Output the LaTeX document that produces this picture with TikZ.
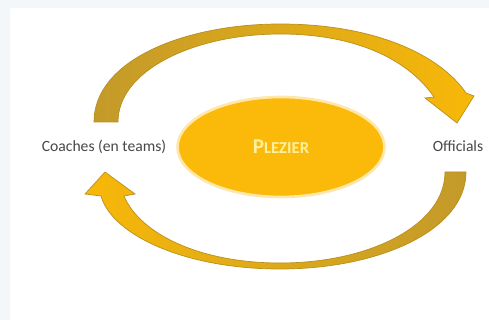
\documentclass[tikz,border=0pt]{standalone}
\usepackage{fontspec}
\setmainfont{Carlito}
\usetikzlibrary{shapes.geometric,positioning}
\definecolor{frame}{HTML}{F3F7FA}
\definecolor{gold}{HTML}{FBBA0A}
\definecolor{darkgold}{HTML}{C39A2A}
\definecolor{lightgold}{HTML}{F8B808}
\definecolor{rimgold}{HTML}{B8901E}
\definecolor{labelgray}{HTML}{484848}
\definecolor{paleyellow}{HTML}{FFF0A0}

\begin{document}
\begin{tikzpicture}[x=0.02cm,y=-0.02cm]
\tikzstyle{label}=[inner sep=0pt,text=labelgray,font=\fontsize{8.9}{10}\selectfont]
\tikzstyle{bigarrow}=[draw=rimgold,line width=0.4pt]

% background and frame
\fill[frame] (0,0) rectangle (489,320);
\fill[white] (10,8) rectangle (489,320);
\useasboundingbox (0,0) rectangle (489,320);

% centre
\node [ellipse,fill=gold,draw=gold!35,line width=1.5pt,inner sep=0pt,
       minimum width=4.14cm,minimum height=2cm] (plezier) at (281,147)
      {\color{paleyellow}\bfseries\fontsize{12}{12}\selectfont P\fontsize{9.5}{12}\selectfont LEZIER};

\node [label] (coach) at (104,147) {Coaches (en teams)};
\node [label] (offic) at (458,146) {Officials};

% upper arrow
\coordinate (ta) at (94,122);
\coordinate (tb) at (118,122);
\coordinate (ttip) at (457,123);
\shadedraw[bigarrow,left color=darkgold,right color=lightgold]
  (ta) .. controls (94,60) and (185,24) .. (280,24)
  .. controls (375,24) and (440,55) .. (466,93) -- (474,96) -- (ttip) -- (425,98) -- (434,97)
  .. controls (410,62) and (360,34) .. (280,34)
  .. controls (195,34) and (118,70) .. (tb) -- cycle;

% lower arrow
\coordinate (ba) at (466,172);
\coordinate (bb) at (445,172);
\coordinate (btip) at (105,172);
\shadedraw[bigarrow,left color=lightgold,right color=darkgold]
  (ba) .. controls (466,230) and (380,269) .. (280,269)
  .. controls (185,269) and (112,235) .. (101,196) -- (85,194) -- (btip) -- (135,194) -- (124,196)
  .. controls (140,234) and (200,263) .. (280,263)
  .. controls (370,263) and (445,225) .. (bb) -- cycle;
\end{tikzpicture}
\end{document}
